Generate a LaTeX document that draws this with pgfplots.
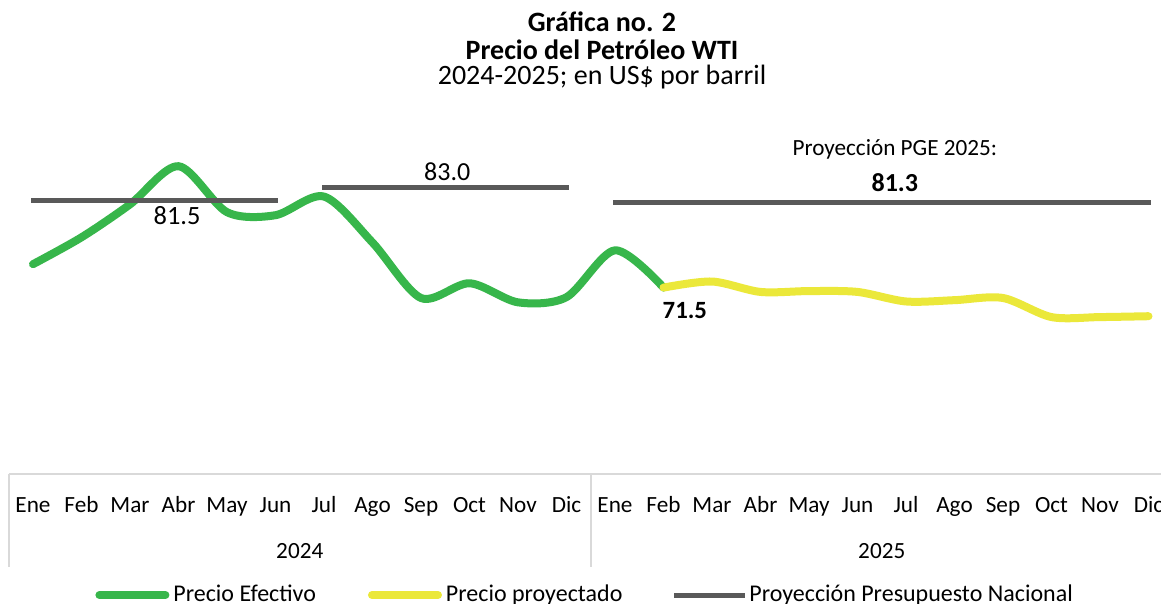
\documentclass[border=0pt]{standalone}
\usepackage{pgfplots}
\pgfplotsset{compat=1.18}
\usepackage{fontspec}
\setmainfont{Carlito}
\definecolor{verde}{RGB}{55,182,75}
\definecolor{amarillo}{RGB}{235,232,58}
\definecolor{gris}{RGB}{89,89,89}
\definecolor{borde}{RGB}{217,217,217}

\begin{document}
\begin{tikzpicture}[x=1pt,y=1pt]
\path[use as bounding box] (0,0) rectangle (580.5,-302);
\clip (0,0) rectangle (580.5,-302);
% titulo
\node[anchor=base, font=\fontsize{14}{16}\selectfont\bfseries] at (301,-16) {Gráfica no. 2};
\node[anchor=base, font=\fontsize{14}{16}\selectfont\bfseries] at (301,-29.7) {Precio del Petróleo WTI};
\node[anchor=base, font=\fontsize{14}{16}\selectfont] at (301,-42.5) {2024-2025; en US\$ por barril};

\begin{axis}[
  at={(4.375pt,-237pt)}, anchor=south west,
  x=24.25pt, y=4.335pt,
  xmin=-0.5, xmax=23.5, ymin=50, ymax=90,
  axis line style={draw=none},
  clip=false,
  ytick=\empty,
  xtick={0,...,23},
  xticklabels={Ene,Feb,Mar,Abr,May,Jun,Jul,Ago,Sep,Oct,Nov,Dic,Ene,Feb,Mar,Abr,May,Jun,Jul,Ago,Sep,Oct,Nov,Dic},
  major tick length=0pt,
  xticklabel style={anchor=base, yshift=-19.2pt, font=\fontsize{11.6}{13}\selectfont},
  unbounded coords=jump,
  legend columns=3,
  legend style={at={(0.496,-0.349)}, anchor=center, draw=none, fill=none,
    font=\fontsize{12}{14}\selectfont,
    /tikz/every even column/.append style={column sep=24pt}},
  legend image code/.code={\draw[#1] (0pt,0pt) -- (33pt,0pt);},
]
% marco de la tabla de categorias
\draw[borde, line width=1pt] (axis cs:-0.5,50) -- (axis cs:23.5,50);
\draw[borde, line width=0.9pt] (axis cs:-0.5,50) -- (axis cs:-0.5,39.31);
\draw[borde, line width=0.9pt] (axis cs:11.5,50) -- (axis cs:11.5,39.31);
\draw[borde, line width=0.9pt] (axis cs:23.5,50) -- (axis cs:23.5,39.31);
\node[anchor=base, yshift=-42.2pt, font=\fontsize{11.6}{13}\selectfont] at (axis cs:5.5,50) {2024};
\node[anchor=base, yshift=-42.2pt, font=\fontsize{11.6}{13}\selectfont] at (axis cs:17.5,50) {2025};

\addplot[verde, line width=4pt, smooth, line cap=round] coordinates {
(0,74.2) (1,77.3) (2,81.1) (3,85.5) (4,80.2) (5,79.85) (6,82.0)
(7,76.7) (8,70.3) (9,72.0) (10,69.8) (11,70.4) (12,75.8) (13,71.5)
};
\addlegendentry{Precio Efectivo}
\addplot[amarillo, line width=4pt, smooth, line cap=round] coordinates {
(13,71.5) (14,72.2) (15,71.0) (16,71.1) (17,71.0) (18,69.9)
(19,70.05) (20,70.3) (21,68.1) (22,68.1) (23,68.2)
};
\addlegendentry{Precio proyectado}
\addplot[gris, line width=2.5pt, line cap=rect] coordinates {
(0,81.5) (5,81.5) (5.5,nan) (6,83.0) (11,83.0) (11.5,nan) (12,81.3) (23,81.3)
};
\addlegendentry{Proyección Presupuesto Nacional}

\node[anchor=base, font=\fontsize{13.2}{15}\selectfont] at (axis cs:2.97,78.78) {81.5};
\node[anchor=base, font=\fontsize{13}{15}\selectfont] at (axis cs:8.54,83.89) {83.0};
\node[anchor=base, font=\fontsize{12.4}{15}\selectfont\bfseries] at (axis cs:13.44,67.94) {71.5};
\node[anchor=base, font=\fontsize{13}{15}\selectfont\bfseries] at (axis cs:17.77,82.54) {81.3};
\node[anchor=base, font=\fontsize{11.6}{14}\selectfont] at (axis cs:17.77,86.77) {Proyección PGE 2025:};
\end{axis}
\end{tikzpicture}
\end{document}
